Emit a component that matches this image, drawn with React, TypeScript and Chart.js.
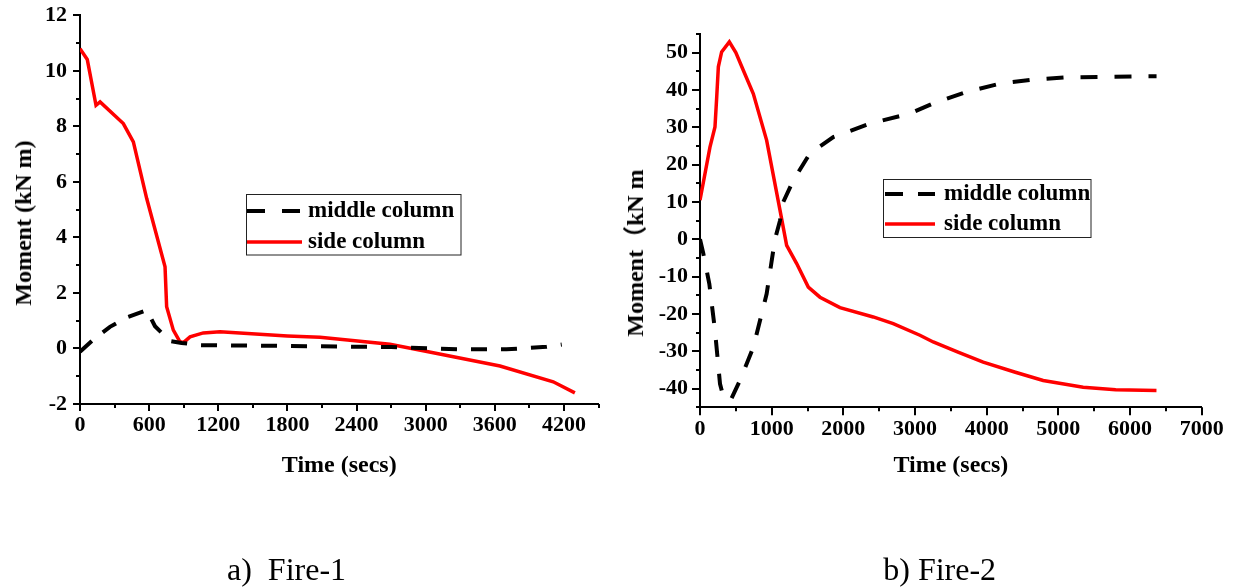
import React, { useEffect, useRef } from "react";
import { Chart, registerables } from "chart.js";

Chart.register(...registerables);

const SERIF = '"Liberation Serif", "Times New Roman", Times, serif';
const SERIF_CJK = '"Liberation Serif", "Times New Roman", "Noto Sans CJK SC", serif';

// ---------- Fire-1 data ----------
const fire1MiddleTime = [0, 116, 260, 405, 579, 651, 781, 882, 1041, 2054, 2700, 3300, 3700, 4050, 4181];
const fire1MiddleMoment = [-0.12, 0.32, 0.78, 1.12, 1.38, 0.8, 0.27, 0.2, 0.12, 0.08, 0.05, -0.03, -0.03, 0.06, 0.14];
const fire1SideTime = [0, 63, 139, 174, 376, 463, 579, 738, 752, 810, 868, 900, 955, 1070, 1215, 1800, 2083, 2690, 3000, 3645, 4107, 4295];
const fire1SideMoment = [10.8, 10.41, 8.76, 8.88, 8.1, 7.44, 5.4, 2.94, 1.5, 0.66, 0.24, 0.22, 0.42, 0.56, 0.6, 0.45, 0.4, 0.15, -0.1, -0.63, -1.2, -1.6];
const fire1TimeTicks = [0, 600, 1200, 1800, 2400, 3000, 3600, 4200];
const fire1MomentTicks = [-2, 0, 2, 4, 6, 8, 10, 12];

// ---------- Fire-2 data ----------
const fire2MiddleTime = [0, 46, 130, 209, 279, 330, 430, 558, 744, 930, 1046, 1116, 1162, 1302, 1534, 1860, 2371, 2929, 3254, 3719, 4184, 4649, 5114, 5579, 6183, 6370];
const fire2MiddleMoment = [0, -3.8, -11.9, -24.4, -38.7, -42.5, -43, -37.8, -28.9, -14.6, 0, 5, 10, 15.8, 23, 27.4, 31, 33.7, 36.4, 39.5, 41.7, 42.8, 43.4, 43.5, 43.7, 43.7];
const fire2SideTime = [0, 139, 209, 233, 256, 302, 409, 500, 604, 744, 930, 1116, 1209, 1349, 1511, 1674, 1953, 2417, 2696, 3068, 3254, 3600, 3951, 4400, 4788, 5346, 5800, 6369];
const fire2SideMoment = [10.5, 24.7, 30.1, 38, 46.2, 50.2, 52.9, 50, 45.3, 39, 26.5, 7.8, -1.6, -6.5, -12.8, -15.5, -18.3, -20.8, -22.6, -25.7, -27.5, -30.2, -32.9, -35.6, -37.8, -39.6, -40.3, -40.5];
const fire2TimeTicks = [0, 1000, 2000, 3000, 4000, 5000, 6000, 7000];
const fire2MomentTicks = [-40, -30, -20, -10, 0, 10, 20, 30, 40, 50];

const seriesLabels = ["middle column", "side column"];

const zip = (t: number[], m: number[]) => t.map((x, i) => ({ x, y: m[i] }));

const tickMarks = {
  id: "tickMarks",
  afterDraw(chart: any, _a: any, o: any) {
    const { ctx, chartArea } = chart;
    const xs = chart.scales.x;
    const ys = chart.scales.y;
    ctx.save();
    ctx.strokeStyle = "#000";
    ctx.lineWidth = 2;
    const draw = (scale: any, minor: number, major: number, horiz: boolean) => {
      const n = Math.round((scale.max - scale.min) / minor);
      for (let i = 0; i <= n; i++) {
        const v = scale.min + i * minor;
        const r = v / major;
        const isMajor = Math.abs(r - Math.round(r)) < 1e-6;
        const len = isMajor ? o.majorLen : o.minorLen;
        const p = Math.round(scale.getPixelForValue(v));
        ctx.beginPath();
        if (horiz) {
          ctx.moveTo(p, chartArea.bottom);
          ctx.lineTo(p, chartArea.bottom + len);
        } else {
          ctx.moveTo(chartArea.left, p);
          ctx.lineTo(chartArea.left - len, p);
        }
        ctx.stroke();
      }
    };
    draw(xs, o.xMinor, o.xMajor, true);
    draw(ys, o.yMinor, o.yMajor, false);
    ctx.restore();
  },
};

const legendBox = {
  id: "legendBox",
  afterDatasetsDraw(chart: any, _a: any, o: any) {
    const ctx = chart.ctx;
    ctx.save();
    ctx.fillStyle = "#fff";
    ctx.fillRect(o.x, o.y, o.w, o.h);
    ctx.strokeStyle = "#222";
    ctx.lineWidth = 1;
    ctx.strokeRect(o.x, o.y, o.w, o.h);
    chart.data.datasets.forEach((ds: any, i: number) => {
      const y = o.rows[i];
      ctx.beginPath();
      ctx.setLineDash(i === 0 ? o.dash : []);
      ctx.strokeStyle = ds.borderColor;
      ctx.lineWidth = ds.borderWidth;
      ctx.moveTo(o.sx0, y);
      ctx.lineTo(o.sx1, y);
      ctx.stroke();
      ctx.setLineDash([]);
      ctx.fillStyle = "#000";
      ctx.font = `bold 23px ${SERIF}`;
      ctx.textBaseline = "middle";
      ctx.textAlign = "left";
      ctx.fillText(ds.label, o.tx, y);
    });
    ctx.restore();
  },
};

function buildConfig(c: any): any {
  const tickFont = { family: SERIF, size: 22, weight: "bold" };
  return {
    type: "line",
    data: {
      datasets: [
        {
          label: seriesLabels[0],
          data: c.middle,
          borderColor: "#000000",
          borderWidth: 4,
          borderDash: c.middleDash,
          pointRadius: 0,
          tension: 0,
          fill: false,
        },
        {
          label: seriesLabels[1],
          data: c.side,
          borderColor: "#ff0000",
          borderWidth: 3.5,
          pointRadius: 0,
          tension: 0,
          fill: false,
        },
      ],
    },
    options: {
      animation: false,
      responsive: false,
      devicePixelRatio: 1,
      layout: { padding: c.padding },
      plugins: {
        legend: { display: false },
        tooltip: { enabled: false },
        tickMarks: c.tickOpts,
        legendBox: c.legend,
      },
      scales: {
        x: {
          type: "linear",
          min: c.xMin,
          max: c.xMax,
          afterBuildTicks: (s: any) => {
            s.ticks = c.xTicks.map((v: number) => ({ value: v }));
          },
          afterFit: (s: any) => {
            s.height = 100;
            s.paddingLeft = 0;
            s.paddingRight = 0;
          },
          grid: { display: false, drawTicks: false },
          border: { display: true, color: "#000", width: 2 },
          ticks: {
            autoSkip: false,
            maxRotation: 0,
            padding: c.xTickPad,
            color: "#000",
            font: tickFont,
            callback: (v: any) => String(v),
          },
          title: {
            display: true,
            text: "Time (secs)",
            color: "#000",
            font: { family: SERIF, size: 24, weight: "bold" },
            padding: { top: 0, bottom: c.xTitlePad },
          },
        },
        y: {
          type: "linear",
          min: c.yMin,
          max: c.yMax,
          afterBuildTicks: (s: any) => {
            s.ticks = c.yTicks.map((v: number) => ({ value: v }));
          },
          afterFit: (s: any) => {
            s.width = 80;
            s.paddingTop = 0;
            s.paddingBottom = 0;
          },
          grid: { display: false, drawTicks: false },
          border: { display: true, color: "#000", width: 2 },
          ticks: {
            autoSkip: false,
            padding: c.yTickPad,
            color: "#000",
            font: tickFont,
            callback: (v: any) => String(v),
          },
        },
      },
    },
    plugins: [tickMarks, legendBox],
  };
}

export default function App() {
  const leftRef = useRef<HTMLCanvasElement | null>(null);
  const rightRef = useRef<HTMLCanvasElement | null>(null);

  useEffect(() => {
    const left = new Chart(
      leftRef.current as HTMLCanvasElement,
      buildConfig({
        middle: zip(fire1MiddleTime, fire1MiddleMoment),
        side: zip(fire1SideTime, fire1SideMoment),
        middleDash: [16, 14],
        xMin: 0,
        xMax: 4500,
        yMin: -2,
        yMax: 12,
        xTicks: fire1TimeTicks,
        yTicks: fire1MomentTicks,
        padding: { left: 0, right: 21.5, top: 15.3, bottom: 83 },
        xTickPad: 8,
        yTickPad: 13,
        xTitlePad: 23.6,
        tickOpts: { xMinor: 300, xMajor: 600, yMinor: 1, yMajor: 2, majorLen: 7, minorLen: 4 },
        legend: {
          x: 246.5,
          y: 194.5,
          w: 214.5,
          h: 60.5,
          rows: [211, 242],
          sx0: 247,
          sx1: 302,
          tx: 308,
          dash: [18, 17],
        },
      })
    );
    const right = new Chart(
      rightRef.current as HTMLCanvasElement,
      buildConfig({
        middle: zip(fire2MiddleTime, fire2MiddleMoment),
        side: zip(fire2SideTime, fire2SideMoment),
        middleDash: [17, 17],
        xMin: 0,
        xMax: 7000,
        yMin: -45,
        yMax: 55,
        xTicks: fire2TimeTicks,
        yTicks: fire2MomentTicks,
        padding: { left: 0, right: 32.3, top: 34, bottom: 79.7 },
        xTickPad: 9,
        yTickPad: 12,
        xTitlePad: 26.9,
        tickOpts: { xMinor: 500, xMajor: 1000, yMinor: 5, yMajor: 10, majorLen: 8, minorLen: 4 },
        legend: {
          x: 263.5,
          y: 179.5,
          w: 207.5,
          h: 58,
          rows: [194, 224],
          sx0: 265,
          sx1: 315,
          tx: 324,
          dash: [18, 15],
        },
      })
    );
    return () => {
      left.destroy();
      right.destroy();
    };
  }, []);

  const yTitle: React.CSSProperties = {
    position: "absolute",
    transform: "translate(-50%, -50%) rotate(-90deg)",
    whiteSpace: "nowrap",
    fontWeight: "bold",
    fontSize: 24,
    lineHeight: "24px",
    color: "#000",
  };
  const caption: React.CSSProperties = {
    position: "absolute",
    top: 553.2,
    transform: "translateX(-50%)",
    whiteSpace: "pre",
    fontFamily: SERIF,
    fontSize: 32,
    lineHeight: "32px",
    color: "#000",
  };

  return (
    <div
      style={{
        position: "absolute",
        left: 0,
        top: 0,
        width: 1234,
        height: 587,
        background: "#fff",
        overflow: "hidden",
      }}
    >
      <canvas ref={leftRef} width={620} height={587} style={{ position: "absolute", left: 0, top: 0 }} />
      <canvas ref={rightRef} width={614} height={587} style={{ position: "absolute", left: 620, top: 0 }} />
      <div style={{ ...yTitle, left: 22.5, top: 223, fontFamily: SERIF }}>Moment (kN m)</div>
      <div style={{ ...yTitle, left: 635, top: 253, fontFamily: SERIF_CJK }}>Moment（kN m</div>
      <div style={{ ...caption, left: 286.5 }}>{"a)  Fire-1"}</div>
      <div style={{ ...caption, left: 939.7 }}>{"b) Fire-2"}</div>
    </div>
  );
}
